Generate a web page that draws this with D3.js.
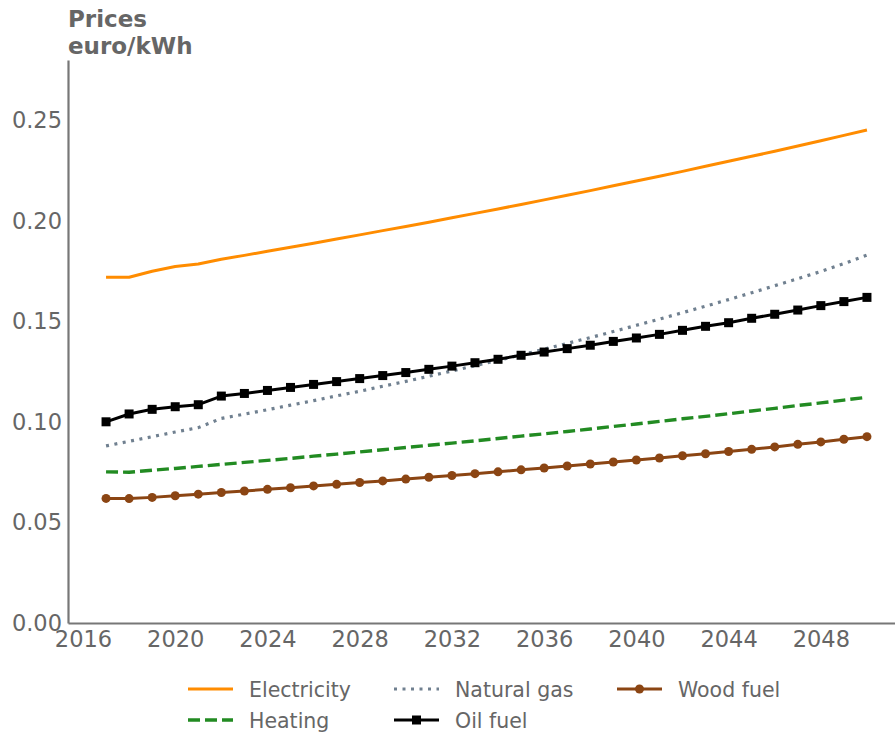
<!DOCTYPE html>
<html>
<head>
<meta charset="utf-8">
<script src="https://cdn.jsdelivr.net/npm/d3@7"></script>
<style>
  body { margin: 0; background: #fff; }
  svg { display: block; font-family: "DejaVu Sans", sans-serif; }
</style>
</head>
<body>
<div id="chart"></div>
<script>
const years = d3.range(2017, 2051);

const electricity = [0.1720, 0.1720, 0.1750, 0.1774, 0.1786, 0.1810, 0.1829, 0.1849, 0.1869,
  0.1889, 0.1910, 0.1931, 0.1952, 0.1973, 0.1994, 0.2016, 0.2038, 0.2060, 0.2082, 0.2105,
  0.2128, 0.2151, 0.2175, 0.2199, 0.2223, 0.2247, 0.2272, 0.2297, 0.2322, 0.2347, 0.2373,
  0.2399, 0.2426, 0.2453];
const naturalGas = [0.0881, 0.0904, 0.0927, 0.0950, 0.0972, 0.1018, 0.1039, 0.1061, 0.1084,
  0.1106, 0.1130, 0.1153, 0.1178, 0.1202, 0.1228, 0.1254, 0.1280, 0.1307, 0.1334, 0.1362,
  0.1391, 0.1420, 0.1450, 0.1481, 0.1512, 0.1544, 0.1576, 0.1609, 0.1643, 0.1678, 0.1713,
  0.1749, 0.1788, 0.1830];
const woodFuel = [0.0620, 0.0619, 0.0625, 0.0633, 0.0641, 0.0649, 0.0657, 0.0665, 0.0673,
  0.0682, 0.0690, 0.0699, 0.0707, 0.0716, 0.0725, 0.0734, 0.0743, 0.0752, 0.0762, 0.0771,
  0.0781, 0.0791, 0.0801, 0.0811, 0.0821, 0.0832, 0.0842, 0.0853, 0.0864, 0.0876, 0.0889,
  0.0901, 0.0914, 0.0927];
const heating = [0.0752, 0.0750, 0.0760, 0.0769, 0.0779, 0.0789, 0.0799, 0.0809, 0.0819,
  0.0830, 0.0840, 0.0851, 0.0862, 0.0873, 0.0884, 0.0895, 0.0906, 0.0918, 0.0930, 0.0941,
  0.0953, 0.0965, 0.0978, 0.0990, 0.1003, 0.1016, 0.1028, 0.1041, 0.1055, 0.1068, 0.1082,
  0.1095, 0.1109, 0.1123];
const oilFuel = [0.1001, 0.1040, 0.1063, 0.1076, 0.1086, 0.1129, 0.1142, 0.1157, 0.1172,
  0.1187, 0.1201, 0.1216, 0.1231, 0.1246, 0.1262, 0.1278, 0.1295, 0.1312, 0.1332, 0.1348,
  0.1365, 0.1382, 0.1401, 0.1418, 0.1436, 0.1456, 0.1476, 0.1494, 0.1516, 0.1536, 0.1557,
  0.1579, 0.1599, 0.1620];

const xTicks = [2016, 2020, 2024, 2028, 2032, 2036, 2040, 2044, 2048];
const yTicks = [0, 0.05, 0.10, 0.15, 0.20, 0.25];

const series = [
  { name: 'Electricity', values: electricity, color: '#ff8c00', dash: null, marker: null, width: 3 },
  { name: 'Natural gas', values: naturalGas, color: '#708090', dash: '3,5.5', marker: null, width: 3.2 },
  { name: 'Wood fuel', values: woodFuel, color: '#8b4513', dash: null, marker: 'circle', width: 3 },
  { name: 'Heating', values: heating, color: '#228b22', dash: '12,5', marker: null, width: 3.4 },
  { name: 'Oil fuel', values: oilFuel, color: '#000000', dash: null, marker: 'square', width: 3 },
];

const width = 895, height = 734;
const margin = { top: 60, left: 68, bottom: 111 };
const textColor = '#666';
const axisColor = '#777';

const svg = d3.select('#chart').append('svg')
  .attr('width', width)
  .attr('height', height);

// x padded 5% beyond the data like matplotlib, so the right end runs off the page
const x = d3.scaleLinear()
  .domain([2015.35, 2051.65])
  .range([margin.left, 905]);

const y = d3.scaleLinear()
  .domain([0, 0.2801])
  .range([height - margin.bottom, margin.top]);

const xAxis = svg.append('g')
  .attr('transform', `translate(0,${height - margin.bottom})`)
  .call(d3.axisBottom(x).tickValues(xTicks).tickFormat(d3.format('d')).tickSize(0).tickPadding(8));

const yAxis = svg.append('g')
  .attr('transform', `translate(${margin.left},0)`)
  .call(d3.axisLeft(y).tickValues(yTicks).tickFormat(d3.format('.2f')).tickSize(0).tickPadding(6));

[xAxis, yAxis].forEach(ax => {
  ax.select('.domain').attr('stroke', axisColor).attr('stroke-width', 2.2);
  ax.selectAll('text')
    .attr('fill', textColor)
    .style('font-size', '22.5px')
    .style('font-family', '"DejaVu Sans", sans-serif');
});

// axis title, two lines
const title = svg.append('text')
  .attr('x', 68)
  .attr('fill', textColor)
  .style('font-weight', 'bold')
  .style('font-size', '23px');
title.append('tspan').attr('x', 68).attr('y', 27).text('Prices');
title.append('tspan').attr('x', 68).attr('y', 54).text('euro/kWh');

const line = d3.line()
  .x((d, i) => x(years[i]))
  .y(d => y(d));

const plot = svg.append('g');

// draw in the same order as the legend reads: electricity, heating, gas, oil, wood
const drawOrder = ['Electricity', 'Heating', 'Natural gas', 'Oil fuel', 'Wood fuel'];
drawOrder.forEach(name => {
  const s = series.find(d => d.name === name);
  plot.append('path')
    .datum(s.values)
    .attr('fill', 'none')
    .attr('stroke', s.color)
    .attr('stroke-width', s.width)
    .attr('stroke-dasharray', s.dash)
    .attr('stroke-linejoin', 'round')
    .attr('d', line);

  if (s.marker === 'circle') {
    plot.selectAll(null)
      .data(s.values)
      .enter().append('circle')
      .attr('cx', (d, i) => x(years[i]))
      .attr('cy', d => y(d))
      .attr('r', 4.5)
      .attr('fill', s.color);
  } else if (s.marker === 'square') {
    plot.selectAll(null)
      .data(s.values)
      .enter().append('rect')
      .attr('x', (d, i) => x(years[i]) - 4.5)
      .attr('y', d => y(d) - 4.5)
      .attr('width', 9)
      .attr('height', 9)
      .attr('fill', s.color);
  }
});

// legend: 3 columns, 2 rows, filled row by row
const legendCols = [188, 394, 617];
const legendRows = [689, 720];
const legend = svg.append('g');
const legendOrder = ['Electricity', 'Natural gas', 'Wood fuel', 'Heating', 'Oil fuel'];
legendOrder.forEach((name, k) => {
  const s = series.find(d => d.name === name);
  const lx = legendCols[k % 3];
  const ly = legendRows[Math.floor(k / 3)];
  const g = legend.append('g').attr('transform', `translate(${lx},${ly})`);
  g.append('line')
    .attr('x1', 0).attr('x2', 45)
    .attr('stroke', s.color)
    .attr('stroke-width', s.width)
    .attr('stroke-dasharray', s.dash);
  if (s.marker === 'circle') {
    g.append('circle').attr('cx', 22.5).attr('r', 4.5).attr('fill', s.color);
  } else if (s.marker === 'square') {
    g.append('rect').attr('x', 18).attr('y', -4.5).attr('width', 9).attr('height', 9).attr('fill', s.color);
  }
  g.append('text')
    .attr('x', 61)
    .attr('y', 8)
    .attr('fill', textColor)
    .style('font-size', '20.5px')
    .text(s.name);
});
</script>
</body>
</html>
